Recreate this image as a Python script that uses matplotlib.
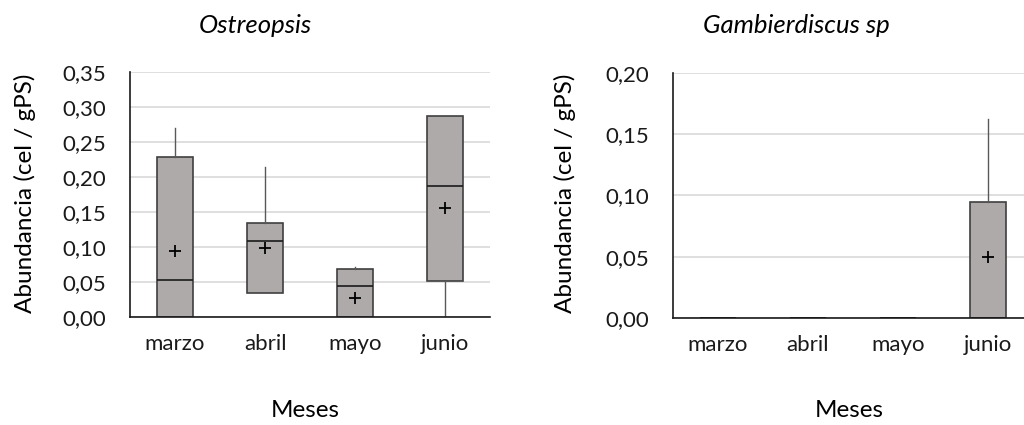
import matplotlib.pyplot as plt
from matplotlib.ticker import FuncFormatter

plt.rcParams['font.family'] = ['Lato', 'DejaVu Sans']

meses = ['marzo', 'abril', 'mayo', 'junio']

# Ostreopsis
ost_whislo = [0.0, 0.035, 0.0, 0.0]
ost_q1 = [0.0, 0.035, 0.0, 0.052]
ost_med = [0.053, 0.108, 0.045, 0.187]
ost_q3 = [0.229, 0.135, 0.069, 0.287]
ost_whishi = [0.270, 0.215, 0.072, 0.287]
ost_mean = [0.095, 0.098, 0.027, 0.156]

# Gambierdiscus sp
gam_whislo = [0.0, 0.0, 0.0, 0.0]
gam_q1 = [0.0, 0.0, 0.0, 0.0]
gam_med = [0.0, 0.0, 0.0, 0.0]
gam_q3 = [0.0, 0.0, 0.0, 0.095]
gam_whishi = [0.0, 0.0, 0.0, 0.162]
gam_mean = [None, None, None, 0.050]


def armar_stats(lo, q1, med, q3, hi, mean):
    stats = []
    for i in range(len(meses)):
        s = dict(whislo=lo[i], q1=q1[i], med=med[i], q3=q3[i], whishi=hi[i], fliers=[])
        if mean[i] is not None:
            s['mean'] = mean[i]
        stats.append(s)
    return stats


def graficar(ax, stats, ymax, paso, con_media):
    ax.set_axisbelow(True)
    ax.grid(axis='y', color='#d9d9d9', lw=1.2)
    pos = [1, 2, 3, 4]
    for p, s, m in zip(pos, stats, con_media):
        ax.bxp([s], positions=[p], widths=0.4, patch_artist=True, showcaps=False,
               showmeans=m, showfliers=False,
               boxprops=dict(facecolor='#aeaaaa', edgecolor='#404040', lw=1.2),
               medianprops=dict(color='#1a1a1a', lw=1.2),
               whiskerprops=dict(color='#595959', lw=1.0),
               meanprops=dict(marker='+', markeredgecolor='black', markersize=8, markeredgewidth=1.3))
    ax.set_xlim(0.5, 4.5)
    ax.set_ylim(0, ymax)
    ax.set_yticks([i * paso for i in range(int(round(ymax / paso)) + 1)])
    ax.yaxis.set_major_formatter(FuncFormatter(lambda v, _: f'{v:.2f}'.replace('.', ',')))
    ax.set_xticks(pos)
    ax.set_xticklabels(meses)
    ax.tick_params(length=0, labelsize=16, colors='#1a1a1a', pad=12)
    ax.tick_params(axis='y', pad=17)
    for lado in ['top', 'right']:
        ax.spines[lado].set_visible(False)
    for lado in ['left', 'bottom']:
        ax.spines[lado].set_color('#1a1a1a')
        ax.spines[lado].set_linewidth(1.2)
        ax.spines[lado].set_zorder(5)


fig = plt.figure(figsize=(10.24, 4.25), dpi=100)
ax1 = fig.add_axes([0.127, 0.254, 0.3516, 0.5765])
ax2 = fig.add_axes([0.657, 0.252, 0.3516, 0.5765])

graficar(ax1, armar_stats(ost_whislo, ost_q1, ost_med, ost_q3, ost_whishi, ost_mean), 0.35, 0.05,
         [m is not None for m in ost_mean])
graficar(ax2, armar_stats(gam_whislo, gam_q1, gam_med, gam_q3, gam_whishi, gam_mean), 0.20, 0.05,
         [m is not None for m in gam_mean])

fig.text(0.249, 0.941, 'Ostreopsis', ha='center', va='center', fontsize=18.5, style='italic')
fig.text(0.778, 0.941, 'Gambierdiscus sp', ha='center', va='center', fontsize=18.5, style='italic')
fig.text(0.024, 0.545, 'Abundancia (cel / gPS)', rotation=90, ha='center', va='center', fontsize=17.5)
fig.text(0.552, 0.545, 'Abundancia (cel / gPS)', rotation=90, ha='center', va='center', fontsize=17.5)
fig.text(0.298, 0.035, 'Meses', ha='center', va='center', fontsize=17.5)
fig.text(0.829, 0.035, 'Meses', ha='center', va='center', fontsize=17.5)

fig.savefig('out.png', dpi=100)
